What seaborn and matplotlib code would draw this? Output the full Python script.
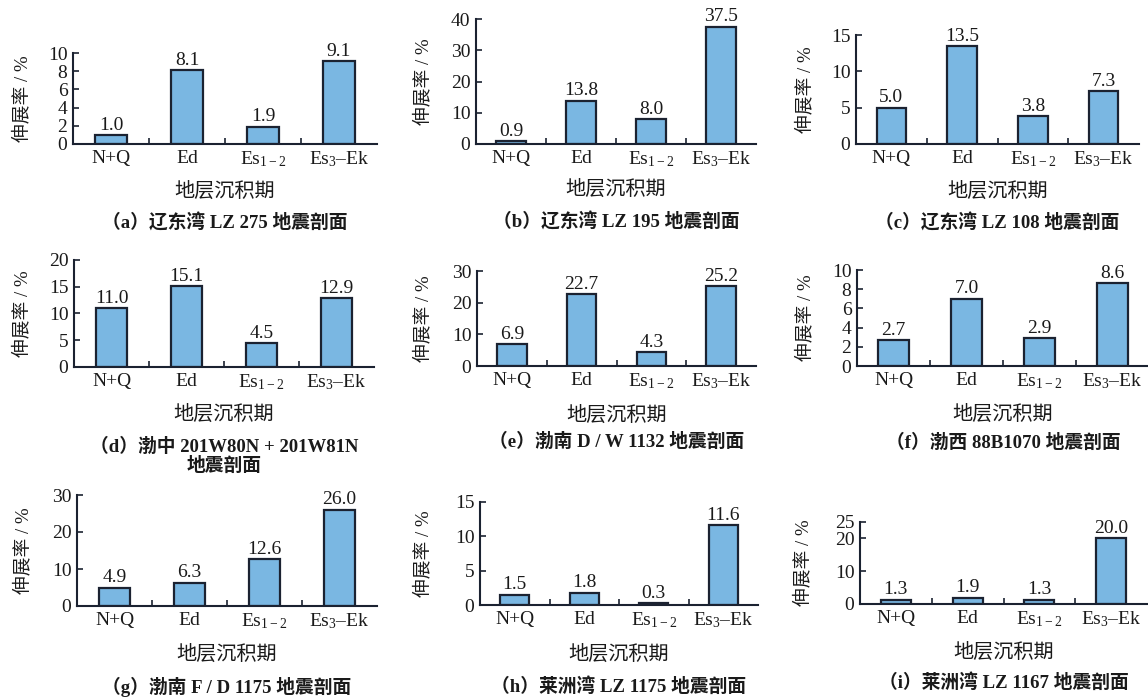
import matplotlib
matplotlib.use('Agg')
import matplotlib.pyplot as plt
import seaborn as sns
import pandas as pd

sns.set_theme(style='white')
plt.rcParams['font.family'] = ['Liberation Serif', 'Noto Sans CJK SC', 'DejaVu Sans']
plt.rcParams['mathtext.fontset'] = 'custom'
plt.rcParams['mathtext.rm'] = 'Liberation Serif'
plt.rcParams['mathtext.it'] = 'Liberation Serif:italic'
plt.rcParams['mathtext.bf'] = 'Liberation Serif:bold'
plt.rcParams['axes.unicode_minus'] = True

# ---------------- data ----------------
categories = ['N+Q', 'Ed', 'Es1-2', 'Es3-Ek']
tick_labels = ['N+Q', 'Ed', r'Es$_{\mathrm{1-2}}$', r'Es$_{\mathrm{3}}$–Ek']

vals_a = [1.0, 8.1, 1.9, 9.1]
vals_b = [0.9, 13.8, 8.0, 37.5]
vals_c = [5.0, 13.5, 3.8, 7.3]
vals_d = [11.0, 15.1, 4.5, 12.9]
vals_e = [6.9, 22.7, 4.3, 25.2]
vals_f = [2.7, 7.0, 2.9, 8.6]
vals_g = [4.9, 6.3, 12.6, 26.0]
vals_h = [1.5, 1.8, 0.3, 11.6]
vals_i = [1.3, 1.9, 1.3, 20.0]

yticks_a = [0, 2, 4, 6, 8, 10]
yticks_b = [0, 10, 20, 30, 40]
yticks_c = [0, 5, 10, 15]
yticks_d = [0, 5, 10, 15, 20]
yticks_e = [0, 10, 20, 30]
yticks_f = [0, 2, 4, 6, 8, 10]
yticks_g = [0, 10, 20, 30]
yticks_h = [0, 5, 10, 15]
yticks_i = [0, 10, 20, 25]

captions = [
    '（a）辽东湾 LZ 275 地震剖面',
    '（b）辽东湾 LZ 195 地震剖面',
    '（c）辽东湾 LZ 108 地震剖面',
    '（d）渤中 201W80N + 201W81N\n地震剖面',
    '（e）渤南 D / W 1132 地震剖面',
    '（f）渤西 88B1070 地震剖面',
    '（g）渤南 F / D 1175 地震剖面',
    '（h）莱洲湾 LZ 1175 地震剖面',
    '（i）莱洲湾 LZ 1167 地震剖面',
]
ylabel = '伸展率 / %'
xlabel = '地层沉积期'

# ---------------- layout (pixels) ----------------
W, H = 1148, 700
# left, top, right, bottom of each axes; ylabel x; xlabel y; caption y
panels = [
    (vals_a, yticks_a, (73, 53, 377, 144), 22, 192, 223),
    (vals_b, yticks_b, (476, 19, 756, 144), 423, 190, 222),
    (vals_c, yticks_c, (856, 35, 1139, 144), 805, 192, 223),
    (vals_d, yticks_d, (74, 260, 374, 367), 22, 415, 456),
    (vals_e, yticks_e, (477, 271, 756, 366), 423, 416, 442),
    (vals_f, yticks_f, (857, 270, 1149, 366), 805, 415, 443),
    (vals_g, yticks_g, (77, 495, 377, 606), 23, 655, 687),
    (vals_h, yticks_h, (480, 502, 758, 605), 423, 655, 687),
    (vals_i, yticks_i, (860, 522, 1147, 604), 803, 653, 683),
]

BAR = '#7ab7e2'
EDGE = '#1b2231'
TXT = '#1a1a1a'

fig = plt.figure(figsize=(W / 100, H / 100), dpi=100)
fig.patch.set_facecolor('white')


def fx(x):
    return x / W


def fy(y):
    return 1 - y / H


for k, (vals, yt, (l, t, r, b), ylx, xly, capy) in enumerate(panels):
    ax = fig.add_axes([fx(l), fy(b), (r - l) / W, (b - t) / H])
    df = pd.DataFrame({'cat': categories, 'val': vals})
    sns.barplot(data=df, x='cat', y='val', ax=ax, color=BAR, saturation=1,
                edgecolor=EDGE, linewidth=1.6, width=0.42)
    ax.set_xlim(-0.5, 3.5)
    ax.set_ylim(0, yt[-1])
    ax.set_yticks(yt)
    ax.set_yticklabels([str(v) for v in yt])
    ax.set_xticks(range(4))
    ax.set_xticklabels(tick_labels)
    ax.set_xticks([0.5, 1.5, 2.5], minor=True)
    ax.tick_params(axis='x', which='major', length=0, pad=4,
                   labelsize=14, labelcolor=TXT)
    ax.tick_params(axis='x', which='minor', direction='in', length=4,
                   width=1.2, color=EDGE, bottom=True)
    ax.tick_params(axis='y', direction='in', length=4, width=1.2,
                   color=EDGE, pad=4, labelsize=14, labelcolor=TXT, left=True)
    for s in ['top', 'right']:
        ax.spines[s].set_visible(False)
    for s in ['left', 'bottom']:
        ax.spines[s].set_color(EDGE)
        ax.spines[s].set_linewidth(1.5)
    ax.set_xlabel('')
    ax.set_ylabel('')
    ax.set_facecolor('none')
    ax.bar_label(ax.containers[0], fmt='%.1f', padding=1, fontsize=14,
                 color=TXT)
    cx = (l + r) / 2
    fig.text(fx(ylx), fy((t + b) / 2), ylabel, rotation=90, ha='center',
             va='center', fontsize=13.5, color=TXT)
    fig.text(fx(cx), fy(xly), xlabel, ha='center', va='center',
             fontsize=14.5, color=TXT)
    fig.text(fx(cx), fy(capy), captions[k], ha='center', va='center',
             fontsize=13.5, color=TXT, fontweight='bold', linespacing=1.05)

fig.savefig('out.png', dpi=100, facecolor='white')
